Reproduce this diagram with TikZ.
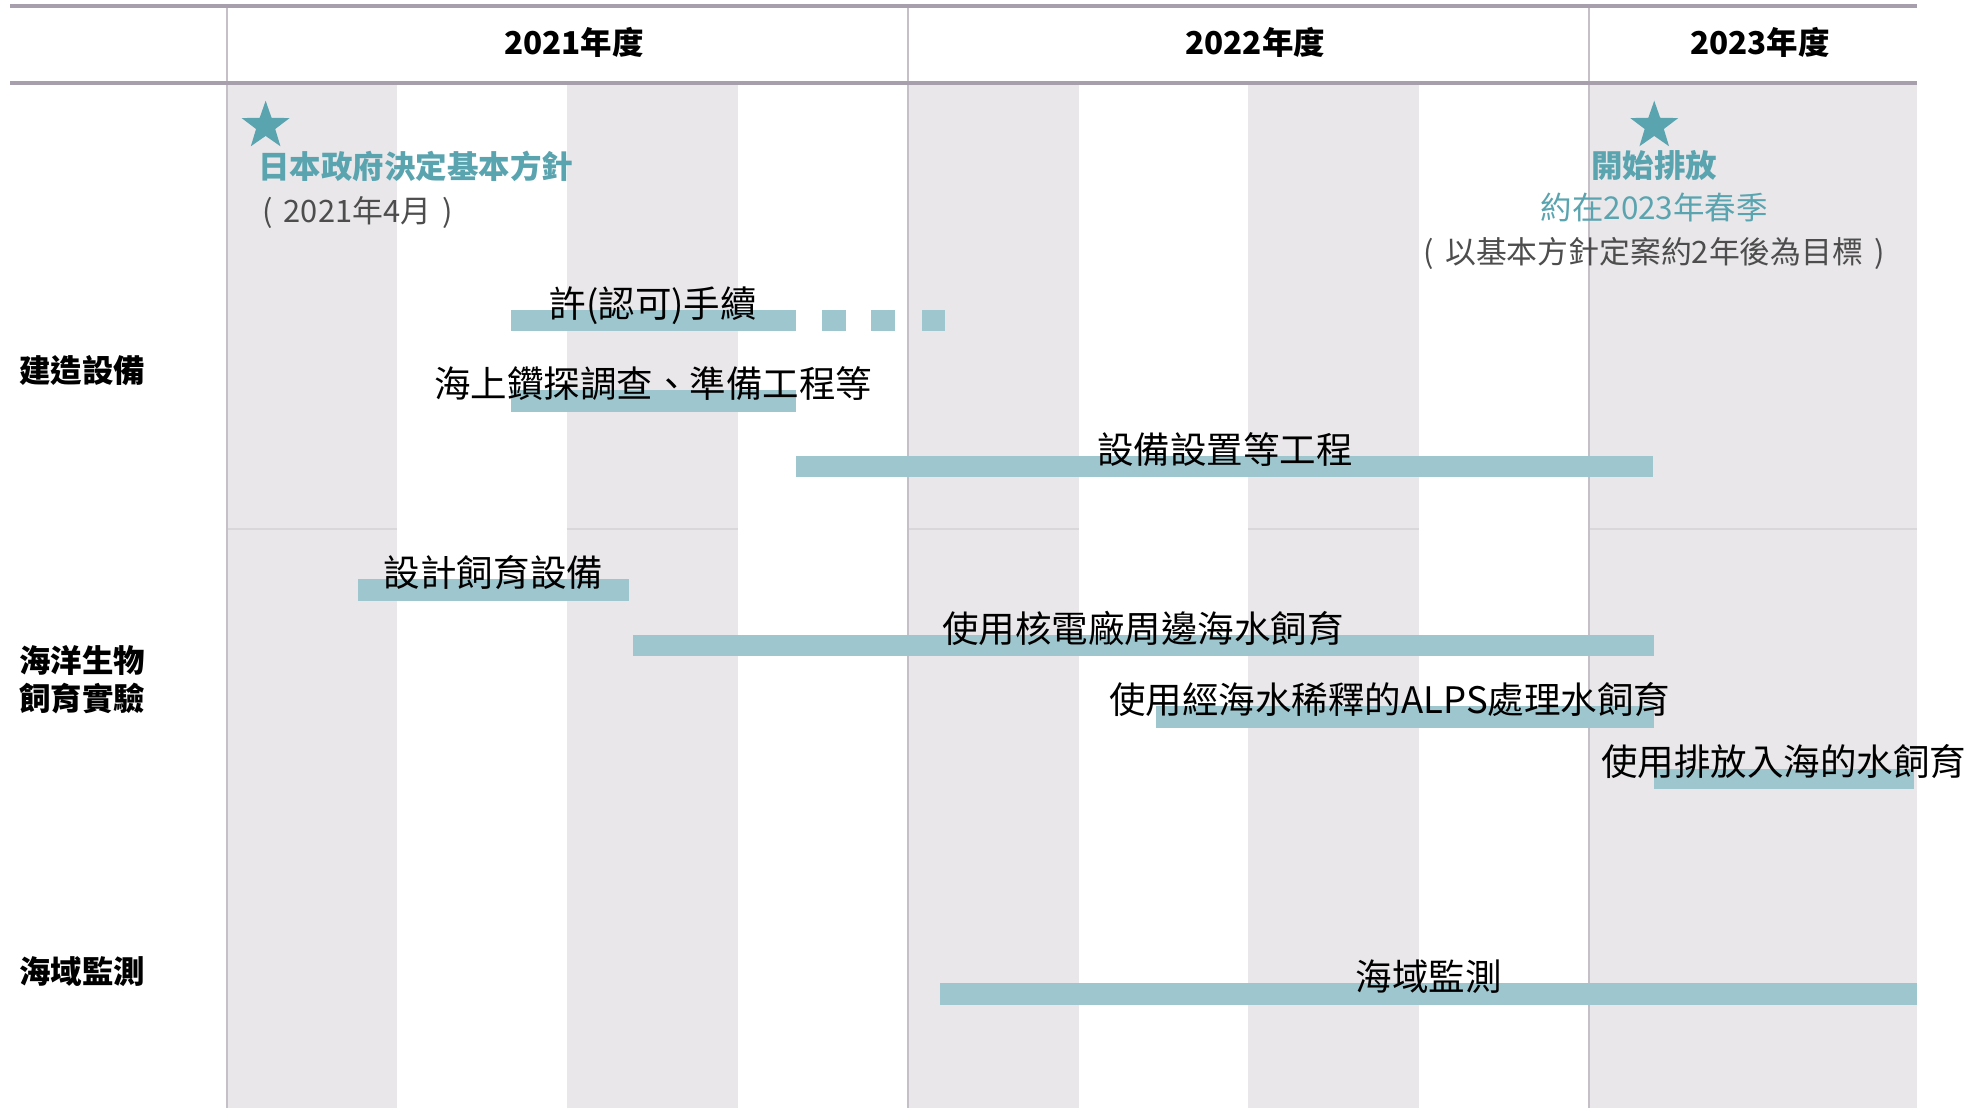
\documentclass[tikz,border=0pt]{standalone}
\usepackage{fontspec}
\setmainfont{Noto Sans CJK TC}
\usetikzlibrary{shapes.geometric}
\definecolor{tealA}{HTML}{5AA4AF}
\definecolor{barC}{HTML}{9DC6CE}
\definecolor{bandC}{HTML}{E9E7EA}
\definecolor{sepC}{HTML}{DAD7DB}
\definecolor{divC}{HTML}{C5C0C8}
\definecolor{ruleC}{HTML}{A79FAB}
\definecolor{noteC}{HTML}{4D4D4D}
\tikzset{
  band/.style={fill=bandC},
  bar/.style={fill=barC},
  lbl/.style={font=\fontsize{29}{34}\selectfont, anchor=base, inner sep=0pt, text=black},
  yearlbl/.style={font=\fontsize{25}{30}\selectfont\bfseries, anchor=base, inner sep=0pt},
  rowlbl/.style={font=\fontsize{25}{30}\selectfont\bfseries, anchor=base west, inner sep=0pt},
  tealtxt/.style={font=\fontsize{25}{30}\selectfont, inner sep=0pt, text=tealA},
  notetxt/.style={font=\fontsize{24.5}{30}\selectfont, inner sep=0pt, text=noteC},
  starmark/.style={star, star points=5, star point ratio=2.5, minimum size=40pt, inner sep=0pt, fill=tealA},
}
\begin{document}
\begin{tikzpicture}[x=1pt,y=-1pt]
\useasboundingbox (0,0) rectangle (1568,880);
% bands
\foreach \a/\b in {180/315,450/586,721/857,991/1127,1262/1523}{
  \fill[band] (\a,67) rectangle (\b,880);
  \draw[sepC, line width=1.2pt] (\a,420) -- (\b,420);
}
% dividers
\foreach \x in {180,721,1262}{
  \draw[divC, line width=1.5pt] (\x,5) -- (\x,880);
}
\draw[ruleC, line width=3pt] (8,5) -- (1523,5);
\draw[ruleC, line width=3pt] (8,66) -- (1523,66);
% headers
\node[yearlbl] (y21) at (456,43) {2021年度};
\node[yearlbl] (y22) at (997,43) {2022年度};
\node[yearlbl] (y23) at (1398,43) {2023年度};
% row labels
\node[rowlbl] (r1) at (15,304) {建造設備};
\node[rowlbl] (r2a) at (15,534) {海洋生物};
\node[rowlbl] (r2b) at (15,564) {飼育實驗};
\node[rowlbl] (r3) at (15,781) {海域監測};
% milestones
\node[starmark] (s1) at (211,100) {};
\node[starmark] (s2) at (1314,100) {};
\node[tealtxt, anchor=base west] (m1) at (205,142) {\bfseries 日本政府決定基本方針};
\node[notetxt, anchor=base west] (m1d) at (208,177) {(\hspace{9pt}2021年4月\hspace{9pt})};
\node[tealtxt, anchor=base] (m2) at (1314,141) {\bfseries 開始排放};
\node[tealtxt, anchor=base] (m2b) at (1314,174) {約在2023年春季};
\node[notetxt, anchor=base] (m2d) at (1314,209) {(\hspace{9pt}以基本方針定案約2年後為目標\hspace{9pt})};
% bars
\fill[bar] (406,246) rectangle (632,263);
\foreach \a in {653,692,732}{ \fill[bar] (\a,246) rectangle (\a+19,263); }
\fill[bar] (406,310) rectangle (632,327);
\fill[bar] (632,362) rectangle (1313,379);
\fill[bar] (284,460) rectangle (500,477);
\fill[bar] (503,504) rectangle (1314,521);
\fill[bar] (918,561) rectangle (1314,578);
\fill[bar] (1314,611) rectangle (1520,627);
\fill[bar] (747,781) rectangle (1523,798);
% bar labels
\node[lbl] (b1) at (519,252) {許(認可)手續};
\node[lbl] (b2) at (519,316) {海上鑽探調查、準備工程等};
\node[lbl] (b3) at (973,368) {設備設置等工程};
\node[lbl] (b4) at (392,466) {設計飼育設備};
\node[lbl] (b5) at (908,510) {使用核電廠周邊海水飼育};
\node[lbl] (b6) at (1104,567) {使用經海水稀釋的ALPS處理水飼育};
\node[lbl] (b7) at (1417,616) {使用排放入海的水飼育};
\node[lbl] (b8) at (1135,787) {海域監測};
\end{tikzpicture}
\end{document}
